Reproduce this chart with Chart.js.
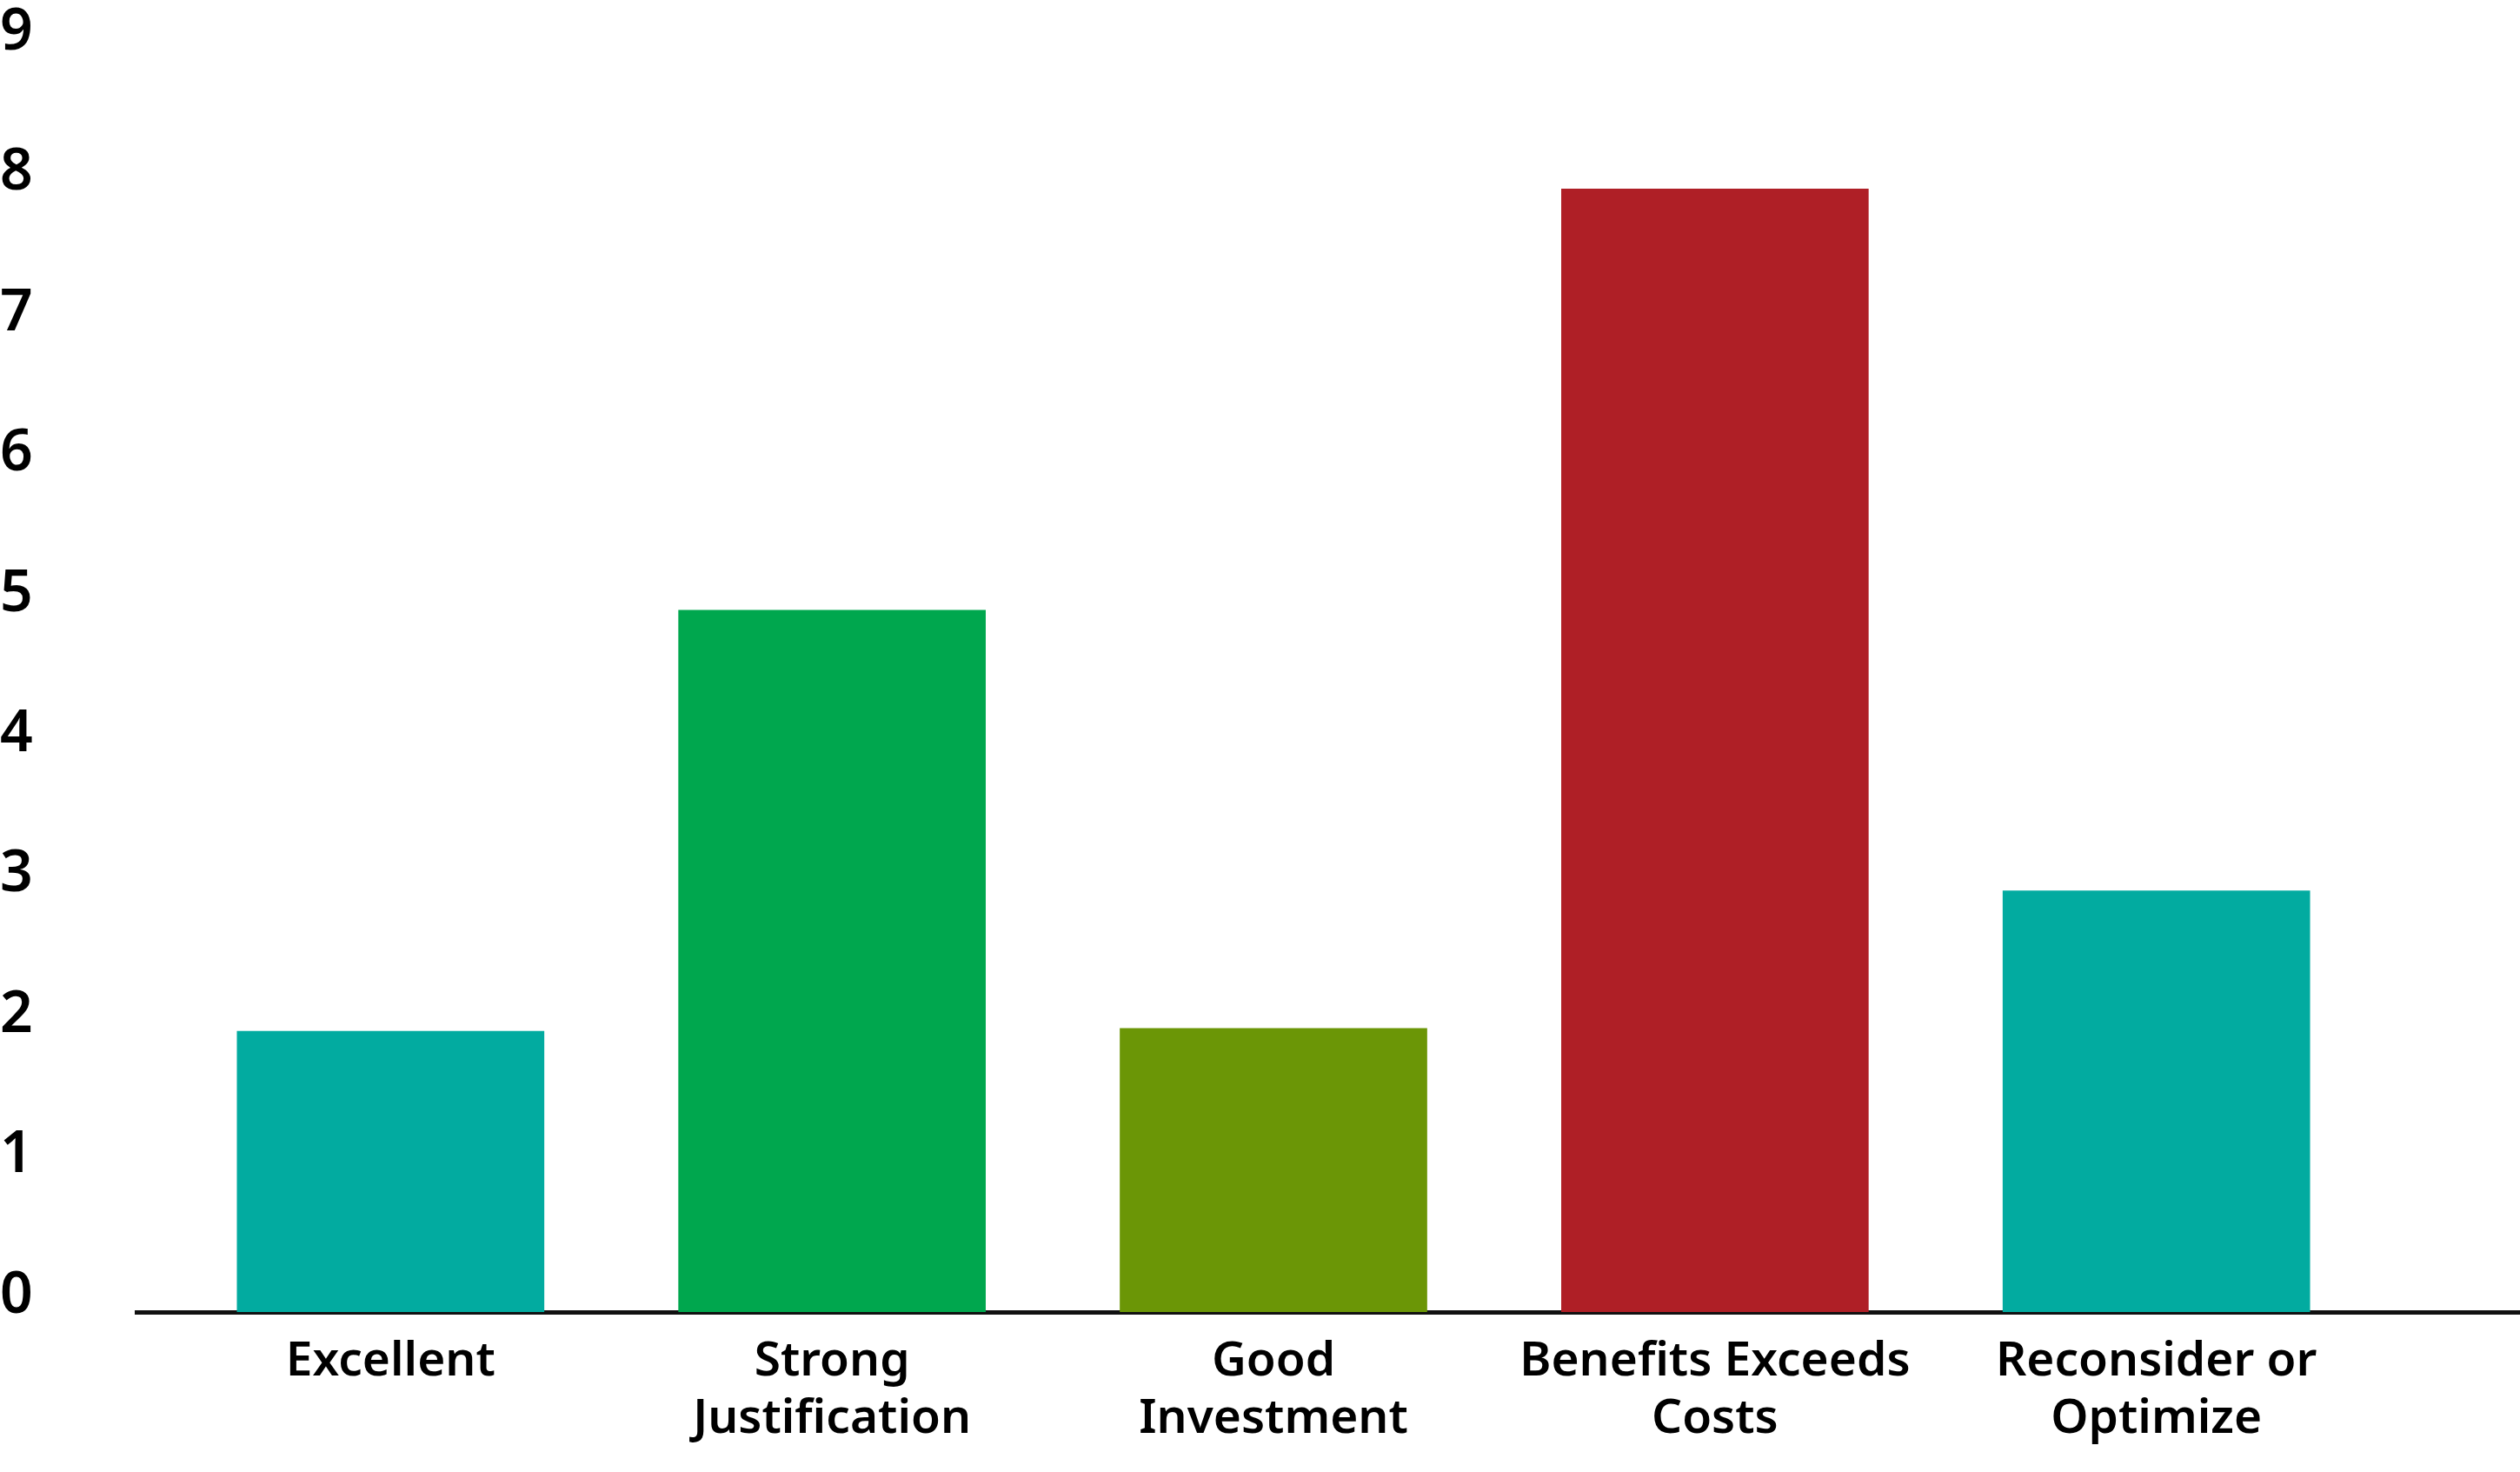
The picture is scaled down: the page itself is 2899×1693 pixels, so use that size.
<!DOCTYPE html>
<html>
<head>
<meta charset="utf-8">
<title>Bar chart</title>
<script src="https://cdn.jsdelivr.net/npm/chart.js@4.4.1/dist/chart.umd.min.js"></script>
<style>
    html, body { margin: 0; padding: 0; background: #fff; }
    #wrap { width: 2899px; height: 1693px; position: relative; }
</style>
</head>
<body>
<div id="wrap"><canvas id="bar"></canvas></div>
<script>
// chart data
var categories = [
    ['Excellent'],
    ['Strong', 'Justification'],
    ['Good', 'Investment'],
    ['Benefits Exceeds', 'Costs'],
    ['Reconsider or', 'Optimize']
];
var values = [2, 5, 2.02, 8, 3];
var barColors = ['#02aba0', '#00a74e', '#6b9606', '#af1f26', '#02aba0'];
var yTicks = [0, 1, 2, 3, 4, 5, 6, 7, 8, 9];

var points = values.map(function(v, i) {
    return { x: i, y: v };
});

var ctx = document.getElementById('bar').getContext('2d');
var chart = new Chart(ctx, {
    type: 'bar',
    data: {
        datasets: [{
            data: points,
            backgroundColor: barColors,
            borderWidth: 0,
            barThickness: 353
        }]
    },
    options: {
        responsive: true,
        maintainAspectRatio: false,
        animation: false,
        devicePixelRatio: 1,
        layout: { padding: { top: 56, left: 0, right: 0, bottom: 0 } },
        plugins: {
            legend: { display: false },
            tooltip: { enabled: false }
        },
        scales: {
            x: {
                type: 'linear',
                offset: false, // bar charts add an offset by default
                min: -0.5756,
                max: 4.8237,
                grid: { display: false, drawTicks: false, offset: false },
                border: { display: true, color: '#111', width: 5 },
                afterBuildTicks: function(scale) { // only the category positions
                    scale.ticks = categories.map(function(c, i) { return { value: i }; });
                },
                afterFit: function(scale) { scale.height = 184; },
                ticks: {
                    autoSkip: false,
                    maxRotation: 0,
                    padding: 24,
                    color: '#000',
                    font: { family: 'Noto Sans', size: 55, weight: '600', lineHeight: 1.2 },
                    callback: function(v) { return categories[v]; }
                }
            },
            y: {
                min: 0,
                max: 9,
                grid: { display: false, drawTicks: false },
                border: { display: false },
                afterBuildTicks: function(scale) {
                    scale.ticks = yTicks.map(function(t) { return { value: t }; });
                },
                afterFit: function(scale) { scale.width = 157; },
                ticks: {
                    crossAlign: 'far',
                    labelOffset: -18,
                    color: '#000',
                    font: { family: 'Noto Sans', size: 66, weight: '600' }
                }
            }
        }
    }
});
</script>
</body>
</html>
